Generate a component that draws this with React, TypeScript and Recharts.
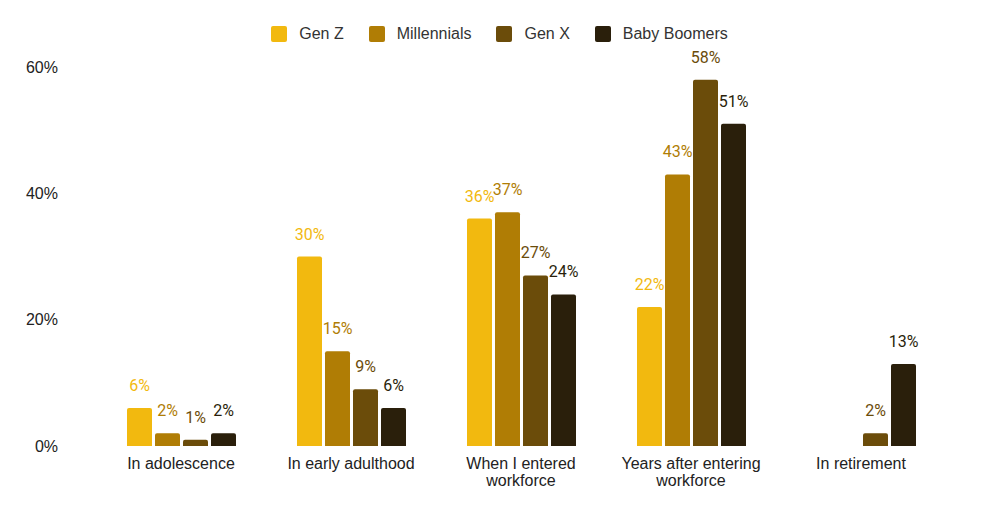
import React from "react";
import { Bar, BarChart, LabelList, XAxis, YAxis } from "recharts";

const categories = [
  "In adolescence",
  "In early adulthood",
  "When I entered workforce",
  "Years after entering workforce",
  "In retirement",
];
const genZ: (number | null)[] = [6, 30, 36, 22, null];
const millennials: (number | null)[] = [2, 15, 37, 43, null];
const genX: (number | null)[] = [1, 9, 27, 58, 2];
const boomers: (number | null)[] = [2, 6, 24, 51, 13];
const yTicks = [0, 20, 40, 60];

const series = [
  { key: "genZ", name: "Gen Z", color: "#F2B90F" },
  { key: "millennials", name: "Millennials", color: "#B07D05" },
  { key: "genX", name: "Gen X", color: "#6B4C0A" },
  { key: "boomers", name: "Baby Boomers", color: "#2A1F0B" },
];

const data = categories.map((c, i) => ({
  category: c,
  genZ: genZ[i],
  millennials: millennials[i],
  genX: genX[i],
  boomers: boomers[i],
}));

const SANS = "'Liberation Sans', Arial, sans-serif";
const LABEL_FONT = "Roboto, 'Noto Sans', sans-serif";

function wrap(text: string, max = 20) {
  const lines: string[] = [];
  let cur = "";
  for (const w of text.split(" ")) {
    const next = cur ? cur + " " + w : w;
    if (next.length > max && cur) {
      lines.push(cur);
      cur = w;
    } else cur = next;
  }
  if (cur) lines.push(cur);
  return lines;
}

function CategoryTick(props: any) {
  const { x, y, payload } = props;
  const lines = wrap(payload.value);
  return (
    <text x={x} y={y} textAnchor="middle" fill="#222" fontSize={16} fontFamily={SANS}>
      {lines.map((l, i) => (
        <tspan key={i} x={x} dy={i === 0 ? 15 : 17}>
          {l}
        </tspan>
      ))}
    </text>
  );
}

function Legend() {
  return (
    <div
      style={{
        position: "absolute",
        top: 25,
        left: 0,
        width: 1000,
        display: "flex",
        justifyContent: "center",
        fontFamily: SANS,
        fontSize: 16,
        color: "#333",
        paddingLeft: 24,
        boxSizing: "border-box",
      }}
    >
      {series.map((s) => (
        <div key={s.key} style={{ display: "flex", alignItems: "center", marginRight: 25 }}>
          <span
            style={{
              width: 16,
              height: 16,
              background: s.color,
              borderRadius: 2,
              marginRight: 12,
              display: "inline-block",
            }}
          />
          <span>{s.name}</span>
        </div>
      ))}
    </div>
  );
}

export default function App() {
  return (
    <div style={{ position: "absolute", left: 0, top: 0, width: 1000, height: 514, background: "#fff" }}>
      <Legend />
      <BarChart
        width={1000}
        height={514}
        data={data}
        margin={{ top: 67, right: 54, bottom: 0, left: 0 }}
        barSize={25}
        barGap={3}
      >
        <XAxis
          dataKey="category"
          axisLine={false}
          tickLine={false}
          interval={0}
          height={68}
          tick={<CategoryTick />}
        />
        <YAxis
          width={96}
          domain={[0, 60]}
          ticks={yTicks}
          axisLine={false}
          tickLine={false}
          tickSize={0}
          tickMargin={38}
          tickFormatter={(v) => `${v}%`}
          tick={{ fill: "#222", fontSize: 16, fontFamily: SANS }}
        />
        {series.map((s) => (
          <Bar key={s.key} dataKey={s.key} name={s.name} fill={s.color} radius={[2, 2, 0, 0]} isAnimationActive={false}>
            <LabelList
              dataKey={s.key}
              position="top"
              offset={17}
              formatter={(v: any) => (v == null ? "" : `${v}%`)}
              style={{ fill: s.color, fontSize: 16, fontFamily: LABEL_FONT }}
            />
          </Bar>
        ))}
      </BarChart>
    </div>
  );
}
